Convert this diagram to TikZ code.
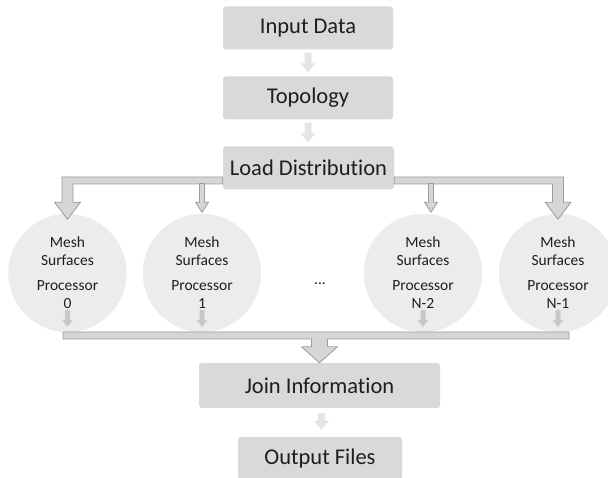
\documentclass[tikz,border=0pt]{standalone}
\usepackage{fontspec}
\setmainfont{Carlito}[Ligatures=NoCommon]
\usetikzlibrary{calc}
\definecolor{boxgray}{RGB}{217,217,217}
\definecolor{circgray}{RGB}{236,236,236}
\definecolor{pipegray}{RGB}{214,214,214}
\definecolor{pipeline}{RGB}{155,155,155}
\definecolor{softgray}{RGB}{229,229,229}
\definecolor{textdark}{RGB}{30,30,30}

% vertical block arrow: [style]{start}{tip}{shaft half width}{head half width}{head length}
\newcommand{\blockarrow}[6][]{%
  \path[#1] let \p1=#2, \p2=#3 in
    (\x1-#4,\y1) -- (\x1-#4,\y2+#6) -- (\x1-#5,\y2+#6) -- (\x1,\y2)
    -- (\x1+#5,\y2+#6) -- (\x1+#4,\y2+#6) -- (\x1+#4,\y1) -- cycle;}

\begin{document}
\begin{tikzpicture}[
    x=1pt, y=1pt,
    box/.style={rectangle, rounded corners=3pt, fill=boxgray, minimum height=43pt, inner sep=0pt, text=textdark, font=\fontsize{22.5}{26}\selectfont},
    proc/.style={circle, fill=circgray, draw=white, line width=1.5pt, minimum size=120pt, inner sep=0pt, align=center, text=textdark, font=\fontsize{15.5}{18}\selectfont},
    pipe/.style={fill=pipegray, draw=pipeline, line width=0.8pt, line join=round},
    softarr/.style={fill=softgray},
    innerarr/.style={fill=black!22, draw=black!12, line width=0.4pt}
]
\useasboundingbox (0,0) rectangle (608,478);

\node[box, minimum width=170pt] (inp) at (308,450) {Input Data};
\node[box, minimum width=170pt] (topo) at (308,380) {Topology};
\node[box, minimum width=171pt] (load) at (308.5,310) {Load Distribution};

\foreach \cx/\num/\nm in {67.5/0/c0, 202/1/c1, 423/N-2/c2, 558/N-1/c3}
  \node[proc] (\nm) at (\cx,205) {Mesh\\Surfaces\\[7pt]Processor\\\num};
\node[text=textdark, font=\fontsize{15.5}{18}\selectfont] (dots) at (320,194) {...};

\node[box, minimum width=241pt, minimum height=45pt] (join) at (319.5,92.5) {Join Information};
\node[box, minimum width=164pt] (out) at (320,19.5) {Output Files};

% flow between boxes
\blockarrow[softarr]{($(inp.south)+(0,-3)$)}{($(topo.north)+(0,4)$)}{3.5pt}{7.5pt}{9pt}
\blockarrow[softarr]{($(topo.south)+(0,-3)$)}{($(load.north)+(0,4)$)}{3.5pt}{7.5pt}{9pt}
\blockarrow[softarr]{($(join.south)+(2,-5)$)}{($(out.north)+(2,7)$)}{3.5pt}{7.5pt}{9pt}

% distribution pipes
\path[pipe] let \p1=(load.west), \p2=(c0.north) in
  (\x1,\y1-9pt) -- (\x2-5.5pt,\y1-9pt) -- (\x2-5.5pt,\y2+10pt) -- (\x2-13pt,\y2+10pt) -- (\x2,\y2-7pt)
  -- (\x2+13pt,\y2+10pt) -- (\x2+5.5pt,\y2+10pt) -- (\x2+5.5pt,\y1-16pt) -- (\x1,\y1-16pt) -- cycle;
\path[pipe] let \p1=(load.east), \p2=(c3.north) in
  (\x1,\y1-9pt) -- (\x2+5.5pt,\y1-9pt) -- (\x2+5.5pt,\y2+10pt) -- (\x2+13pt,\y2+10pt) -- (\x2,\y2-7pt)
  -- (\x2-13pt,\y2+10pt) -- (\x2-5.5pt,\y2+10pt) -- (\x2-5.5pt,\y1-16pt) -- (\x1,\y1-16pt) -- cycle;
\blockarrow[pipe]{($(c1.north |- load.west)+(0,-15.5)$)}{(c1.north)}{2.5pt}{6.5pt}{10pt}
\blockarrow[pipe]{($(c2.north |- load.west)+(8,-15.5)$)}{($(c2.north)+(8,0)$)}{2.5pt}{6.5pt}{10pt}

% small arrows inside the processors
\foreach \nm in {c0,c1,c2,c3}
  \blockarrow[innerarr]{($(\nm.center)+(0,-37)$)}{($(\nm.center)+(0,-54)$)}{2.5pt}{5.5pt}{7pt};

% collecting pipe
\path[pipe] let \p1=(c0.center), \p2=(c3.center), \p3=(join.north) in
  (\x1-4.5pt,\y1-59pt) -- (\x2+11pt,\y1-59pt) -- (\x2+11pt,\y1-66pt) -- (\x3+8pt,\y1-66pt)
  -- (\x3+8pt,\y3+16pt) -- (\x3+18pt,\y3+16pt) -- (\x3,\y3) -- (\x3-18pt,\y3+16pt)
  -- (\x3-8pt,\y3+16pt) -- (\x3-8pt,\y1-66pt) -- (\x1-4.5pt,\y1-66pt) -- cycle;
\end{tikzpicture}
\end{document}
